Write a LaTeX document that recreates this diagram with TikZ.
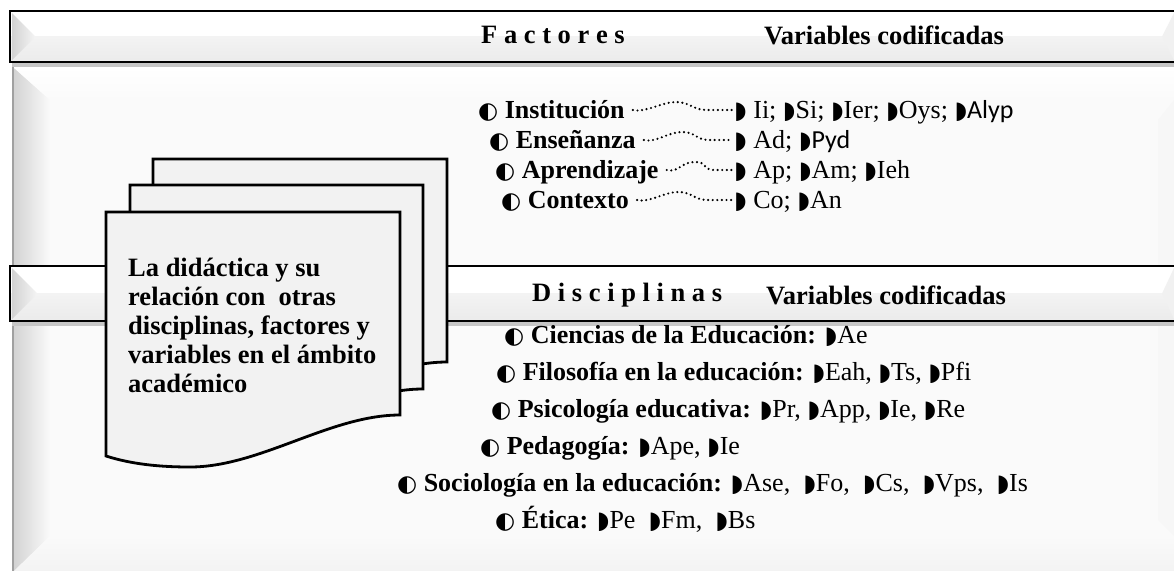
\documentclass[tikz,border=0pt]{standalone}
\usepackage{fontspec}
\setmainfont{Liberation Serif}
\newfontfamily\symf{DejaVu Sans}
\newfontfamily\sansf{Carlito}
\usetikzlibrary{calc}
\definecolor{pagefill}{HTML}{F2F2F2}
\definecolor{panelfill}{HTML}{FAFAFA}
\definecolor{bandlow}{HTML}{EBEBEB}
\definecolor{bevelgray}{HTML}{D2D2D2}
\definecolor{shadowgray}{HTML}{A0A0A0}
\newcommand\lhc{{\symf\fontsize{23}{23}\selectfont ◐}}
\newcommand\rhc{{\symf\fontsize{24}{24}\selectfont ◗}}
\newcommand\mybanner[2]{%
  \fill[white] (10,#1) rectangle (1180,#2);
  \shade[top color=bandlow!60, bottom color=bandlow] (10,{(#1+#2)/2}) rectangle (1180,#2);
  \shade[left color=bevelgray, right color=bandlow!50] (12,{#1+2}) -- ({12+((#2-#1)/2)-2},{(#1+#2)/2}) -- (12,{#2-2}) -- cycle;
  \fill[bandlow!70] (1174,{#1+2}) -- (1162,{(#1+#2)/2}) -- (1174,{#2-2}) -- cycle;
  \draw[shadowgray!60, line width=4pt] (12,{#2+3}) -- (1180,{#2+3});
  \draw[black, line width=2.6pt] (1180,#1) -- (10,#1) -- (10,#2) -- (1180,#2);
}
\tikzset{
  pagebox/.style={draw=black, line width=2.8pt, fill=pagefill, line join=miter},
  fac/.style={anchor=west, inner sep=0pt, font=\fontsize{26}{26}\selectfont\bfseries, text height=19pt, text depth=6pt},
  codes/.style={anchor=west, inner sep=0pt, font=\fontsize{26}{26}\selectfont, text height=19pt, text depth=6pt},
  disc/.style={anchor=west, inner sep=0pt, font=\fontsize{26}{26}\selectfont, text height=19pt, text depth=6pt},
  head/.style={anchor=west, inner sep=0pt, font=\fontsize{26.5}{26.5}\selectfont\bfseries},
  wave/.style={line width=2.4pt, line cap=round, dash pattern=on 0pt off 4.6pt},
}
\begin{document}
\begin{tikzpicture}[x=1pt, y=-1pt]
\useasboundingbox (0,0) rectangle (1174,570);
\clip (0,0) rectangle (1174,570);
\fill[white] (0,0) rectangle (1174,570);
% big panel
\fill[panelfill] (12,66) rectangle (1180,570);
\shade[left color=bevelgray, right color=panelfill] (13,67) -- (50,100) -- (50,536) -- (13,572) -- cycle;
\shade[top color=white, bottom color=panelfill] (13,67) -- (1180,67) -- (1180,100) -- (50,100) -- cycle;
\shade[top color=panelfill, bottom color=bandlow!60] (13,572) -- (50,536) -- (1180,536) -- (1180,572) -- cycle;
\fill[bandlow!40] (1174,100) -- (1158,120) -- (1158,520) -- (1174,536) -- cycle;
\draw[shadowgray, line width=1.2pt] (13,66) -- (13,572);
% banners
\mybanner{11}{62}
\mybanner{266}{321}
% headings
\node[head] (hf) at (481,35) {F a c t o r e s};
\node[head] (hv1) at (764,35) {Variables codificadas};
\node[head] (hd) at (532,295) {D i s c i p l i n a s};
\node[head] (hv2) at (766,295) {Variables codificadas};
% stacked pages
\path[pagebox] (153,159) -- (447,159) -- (447,362) .. controls (377,362) and (307,414) .. (237,414) .. controls (197,414) and (172,409) .. (153,403) -- cycle;
\path[pagebox] (130,185) -- (423,185) -- (423,389) .. controls (353,389) and (283,440) .. (213,440) .. controls (173,440) and (149,435) .. (130,429) -- cycle;
\path[pagebox] (106,212) -- (400,212) -- (400,415) .. controls (330,415) and (260,467) .. (190,467) .. controls (150,467) and (125,462) .. (106,456) -- cycle;
\node[anchor=north west, inner sep=0pt, align=left, font=\fontsize{26.5}{29}\selectfont\bfseries] (title) at (128,258)
  {La didáctica y su\\relación con~ otras\\disciplinas, factores y\\variables en el ámbito\\académico};
% factors
\node[fac] (f1) at (478,112) {\lhc\ Institución};
\node[codes] (c1) at (734,112) {\rhc\ Ii; \rhc Si; \rhc Ier; \rhc Oys; \rhc{\sansf Alyp}};
\node[fac] (f2) at (489,142) {\lhc\ Enseñanza};
\node[codes] (c2) at (734,142) {\rhc\ Ad; \rhc{\sansf Pyd}};
\node[fac] (f3) at (495,172) {\lhc\ Aprendizaje};
\node[codes] (c3) at (734,172) {\rhc\ Ap; \rhc Am; \rhc Ieh};
\node[fac] (f4) at (501,202) {\lhc\ Contexto};
\node[codes] (c4) at (734,202) {\rhc\ Co; \rhc An};
\foreach \i in {1,2,3,4}{
  \draw[wave] ($(f\i.east)+(8,-2)$) .. controls +(12,3) and +(-14,0) .. ($(f\i.east)!0.45!(c\i.west)+(2,-10)$) .. controls +(14,0) and +(-14,0) .. ($(f\i.east)!0.75!(c\i.west)+(0,-2)$) -- ($(c\i.west)+(-1,-2)$);
}
% disciplines
\node[disc] (d1) at (504,337) {\lhc\ \textbf{Ciencias de la Educación:} \rhc Ae};
\node[disc] (d2) at (496,374) {\lhc\ \textbf{Filosofía en la educación:} \rhc Eah, \rhc Ts, \rhc Pfi};
\node[disc] (d3) at (491,411) {\lhc\ \textbf{Psicología educativa:} \rhc Pr, \rhc App, \rhc Ie, \rhc Re};
\node[disc] (d4) at (480,448) {\lhc\ \textbf{Pedagogía:} \rhc Ape, \rhc Ie};
\node[disc] (d5) at (397,485) {\lhc\ \textbf{Sociología en la educación:} \rhc Ase,~ \rhc Fo,~ \rhc Cs,~ \rhc Vps,~ \rhc Is};
\node[disc] (d6) at (495,522) {\lhc\ \textbf{Ética:} \rhc Pe~ \rhc Fm,~ \rhc Bs};
\end{tikzpicture}
\end{document}
